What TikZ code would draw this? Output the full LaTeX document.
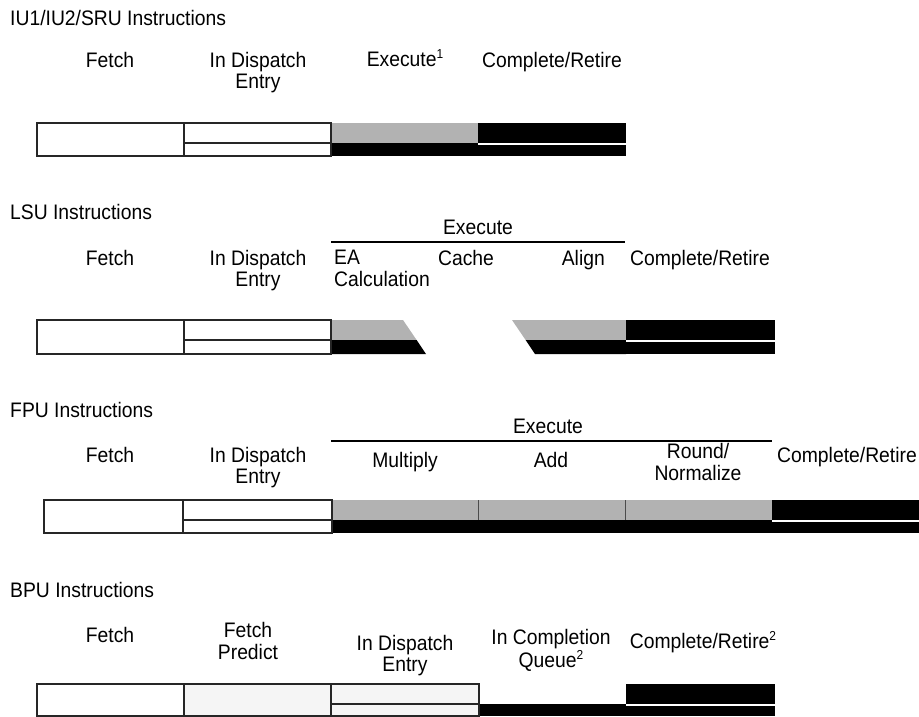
\documentclass[tikz,border=0pt]{standalone}
\usepackage{fontspec}
\setmainfont{Liberation Sans}[FakeStretch=0.92]
\usepackage{xcolor}
\usetikzlibrary{positioning}
\definecolor{execgray}{gray}{0.70}
\definecolor{palegray}{gray}{0.96}
\newcommand{\supnum}[1]{\raisebox{0.4em}{\smash{\fontsize{13}{13}\selectfont #1}}}

\begin{document}
\begin{tikzpicture}[
    x=1pt, y=-1pt,
    every node/.style={inner sep=0pt, font=\fontsize{21}{19.5}\selectfont, align=center},
    lbl/.style={anchor=north},
    title/.style={anchor=north west},
    cellbox/.style={draw=black!85, line width=1.3pt},
    graycell/.style={fill=execgray},
    celldivider/.style={draw=black!70, line width=1pt},
    gapline/.style={draw=white, line width=1.2pt},
    stagerule/.style={line width=1.3pt}
  ]
  \useasboundingbox (0,0) rectangle (919,717);

  % IU1/IU2/SRU
  \node[title] (iutitle) at (10,10) {\strut IU1/IU2/SRU Instructions};
  \node[lbl] (iufetch) at (110,52) {\strut Fetch};
  \node[lbl] (iudisp) at (258,52) {\strut In Dispatch\\Entry};
  \node[lbl] (iuexec) at (405,52) {\strut Execute\supnum{1}};
  \node[lbl] (iudone) at (552,52) {\strut Complete/Retire};
  \path[graycell] (331,123) rectangle (478,143);
  \fill[black] (331,143) rectangle (478,156);
  \fill[black] (478,123) rectangle (626,156);
  \draw[gapline] (478,144) -- (626,144);
  \draw[cellbox] (37,123) rectangle (184,156);
  \draw[cellbox] (184,123) rectangle (331,143);
  \draw[cellbox] (184,143) rectangle (331,156);

  % LSU
  \node[title] (lsutitle) at (10,204) {\strut LSU Instructions};
  \coordinate (lsuruleL) at (331,242);
  \coordinate (lsuruleR) at (625,242);
  \draw[stagerule] (lsuruleL) -- (lsuruleR);
  \node[lbl] (lsuexec) at (478,220) {\strut Execute};
  \node[lbl] (lsufetch) at (110,250) {\strut Fetch};
  \node[lbl] (lsudisp) at (258,250) {\strut In Dispatch\\Entry};
  \node[lbl, anchor=north west, align=left] (lsuea) at (334,250) {\strut EA\\Calculation};
  \node[lbl] (lsucache) at (466,250) {\strut Cache};
  \node[lbl, anchor=north east] (lsualign) at (605,250) {\strut Align};
  \node[lbl] (lsudone) at (700,250) {\strut Complete/Retire};
  \path[graycell] (331,320) -- (403,320) -- (416.6,340) -- (331,340) -- cycle;
  \fill[black] (331,340) -- (416.6,340) -- (426,354) -- (331,354) -- cycle;
  \path[graycell] (512,320) -- (626,320) -- (626,340) -- (525.6,340) -- cycle;
  \fill[black] (525.6,340) -- (626,340) -- (626,354) -- (535,354) -- cycle;
  \fill[black] (626,320) rectangle (775,354);
  \draw[gapline] (626,341) -- (775,341);
  \draw[cellbox] (37,320) rectangle (184,354);
  \draw[cellbox] (184,320) rectangle (331,340);
  \draw[cellbox] (184,340) rectangle (331,354);

  % FPU
  \node[title] (fputitle) at (10,402) {\strut FPU Instructions};
  \coordinate (fpuruleL) at (331,441);
  \coordinate (fpuruleR) at (772,441);
  \draw[stagerule] (fpuruleL) -- (fpuruleR);
  \node[lbl] (fpuexec) at (548,419) {\strut Execute};
  \node[lbl] (fpufetch) at (110,447) {\strut Fetch};
  \node[lbl] (fpudisp) at (258,447) {\strut In Dispatch\\Entry};
  \node[lbl] (fpumul) at (405,452) {\strut Multiply};
  \node[lbl] (fpuadd) at (551,452) {\strut Add};
  \node[lbl] (fpuround) at (698,443) {\strut Round/\\Normalize};
  \node[lbl] (fpudone) at (847,447) {\strut Complete/Retire};
  \fill[black] (332,520) rectangle (919,533);
  \path[graycell] (332,500) rectangle (772,520);
  \foreach \xdiv in {478,625}
    \draw[celldivider] (\xdiv,500) -- (\xdiv,520);
  \fill[black] (772,500) rectangle (919,520);
  \draw[gapline] (772,521) -- (919,521);
  \draw[cellbox] (44,500) rectangle (183,533);
  \draw[cellbox] (183,500) rectangle (332,520);
  \draw[cellbox] (183,520) rectangle (332,533);

  % BPU
  \node[title] (bputitle) at (10,582) {\strut BPU Instructions};
  \node[lbl] (bpufetch) at (110,627) {\strut Fetch};
  \node[lbl] (bpupredict) at (248,622) {\strut Fetch\\Predict};
  \node[lbl] (bpudisp) at (405,635) {\strut In Dispatch\\Entry};
  \node[lbl] (bpuqueue) at (551,629) {\strut In Completion\\[1.5pt]Queue\supnum{2}};
  \node[lbl] (bpudone) at (703,633) {\strut Complete/Retire\supnum{2}};
  \fill[black] (479,704) rectangle (626,716);
  \fill[black] (626,684) rectangle (775,716);
  \draw[gapline] (626,705) -- (775,705);
  \draw[cellbox] (37,684) rectangle (184,716);
  \draw[cellbox, fill=palegray] (184,684) rectangle (331,716);
  \draw[cellbox, fill=palegray] (331,684) rectangle (479,704);
  \draw[cellbox, fill=palegray] (331,704) rectangle (479,716);
\end{tikzpicture}
\end{document}
